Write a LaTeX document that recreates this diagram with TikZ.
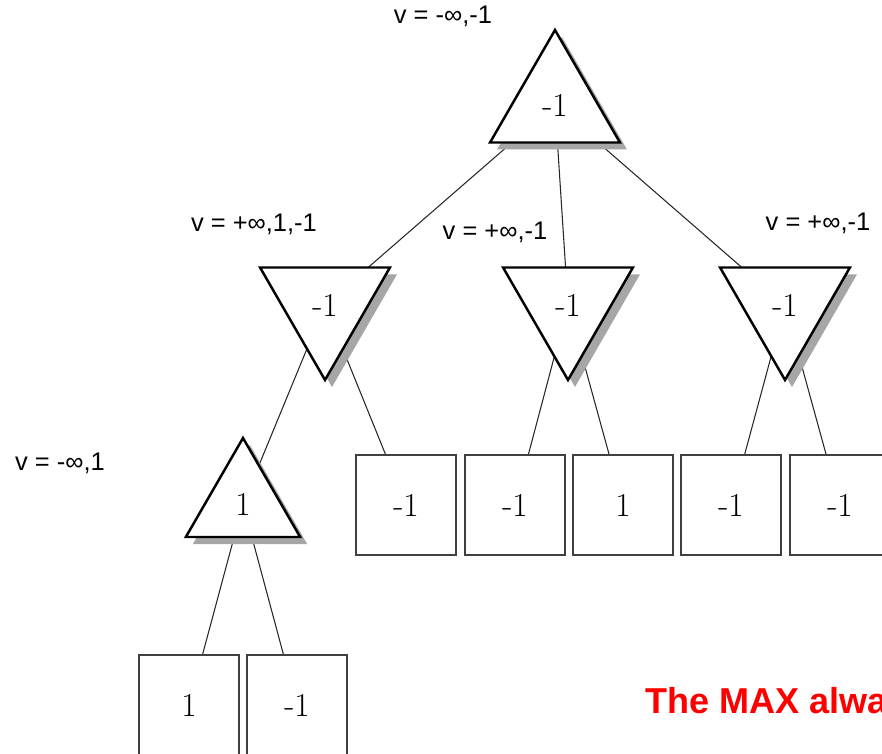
\documentclass[tikz,border=0pt]{standalone}
\usepackage{fontspec}
\setsansfont{Liberation Sans}
\usetikzlibrary{shapes.geometric, shadows, backgrounds}

\begin{document}
\begin{tikzpicture}[
  maxn/.style={regular polygon, regular polygon sides=3, draw=black, line width=1.4pt,
               fill=white, inner sep=0pt, minimum size=3cm,
               drop shadow={shadow xshift=1.4mm, shadow yshift=-1.4mm, fill=black!35, opacity=1},
               font=\fontsize{19}{22}\selectfont},
  minn/.style={maxn, shape border rotate=180},
  leaf/.style={rectangle, draw=black!75, line width=0.8pt, fill=white, minimum size=2cm,
               inner sep=0pt, font=\fontsize{19}{22}\selectfont},
  lbl/.style={font=\sffamily\fontsize{14.5}{17}\selectfont},
  edge/.style={black!85, line width=0.6pt},
]
  \useasboundingbox (0,0) rectangle (17.64,-15.08);
  \clip (0,0) rectangle (17.64,-15.08);

  % Root (MAX)
  \node[maxn] (rt) at (11.1,-2.1) {-1};
  \node[lbl] (vrt) at (8.86,-0.32) {v = -∞,-1};

  % MIN level
  \node[minn] (m1) at (6.5,-6.1)  {-1};
  \node[minn] (m2) at (11.36,-6.1) {-1};
  \node[minn] (m3) at (15.7,-6.1) {-1};
  \node[lbl] (vm1) at (5.08,-4.48) {v = +∞,1,-1};
  \node[lbl] (vm2) at (9.9,-4.64)  {v = +∞,-1};
  \node[lbl] (vm3) at (16.36,-4.46) {v = +∞,-1};

  % Lower MAX
  \node[maxn, minimum size=2.64cm] (x1) at (4.86,-10.08) {1};
  \node[lbl] (vx1) at (1.2,-9.26) {v = -∞,1};

  % Leaves
  \node[leaf] (b1) at (8.12,-10.1)  {-1};
  \node[leaf] (b2) at (10.3,-10.1)  {-1};
  \node[leaf] (b3) at (12.46,-10.1) {1};
  \node[leaf] (b4) at (14.62,-10.1) {-1};
  \node[leaf] (b5) at (16.8,-10.1)  {-1};
  \node[leaf] (c1) at (3.78,-14.1)  {1};
  \node[leaf] (c2) at (5.94,-14.1)  {-1};

  % Tree edges
  \begin{scope}[on background layer]
    \foreach \a/\b in {rt/m1, rt/m2, rt/m3, m1/x1, m1/b1, m2/b2, m2/b3, m3/b4, m3/b5, x1/c1, x1/c2}
      { \draw[edge] (\a.center) -- (\b.center); }
  \end{scope}

  % Message
  \node[font=\sffamily\bfseries\fontsize{20.5}{24}\selectfont, text=red, anchor=base west,
        inner sep=0pt] (msg) at (12.9,-14.26) {The MAX alwa};

\end{tikzpicture}
\end{document}
